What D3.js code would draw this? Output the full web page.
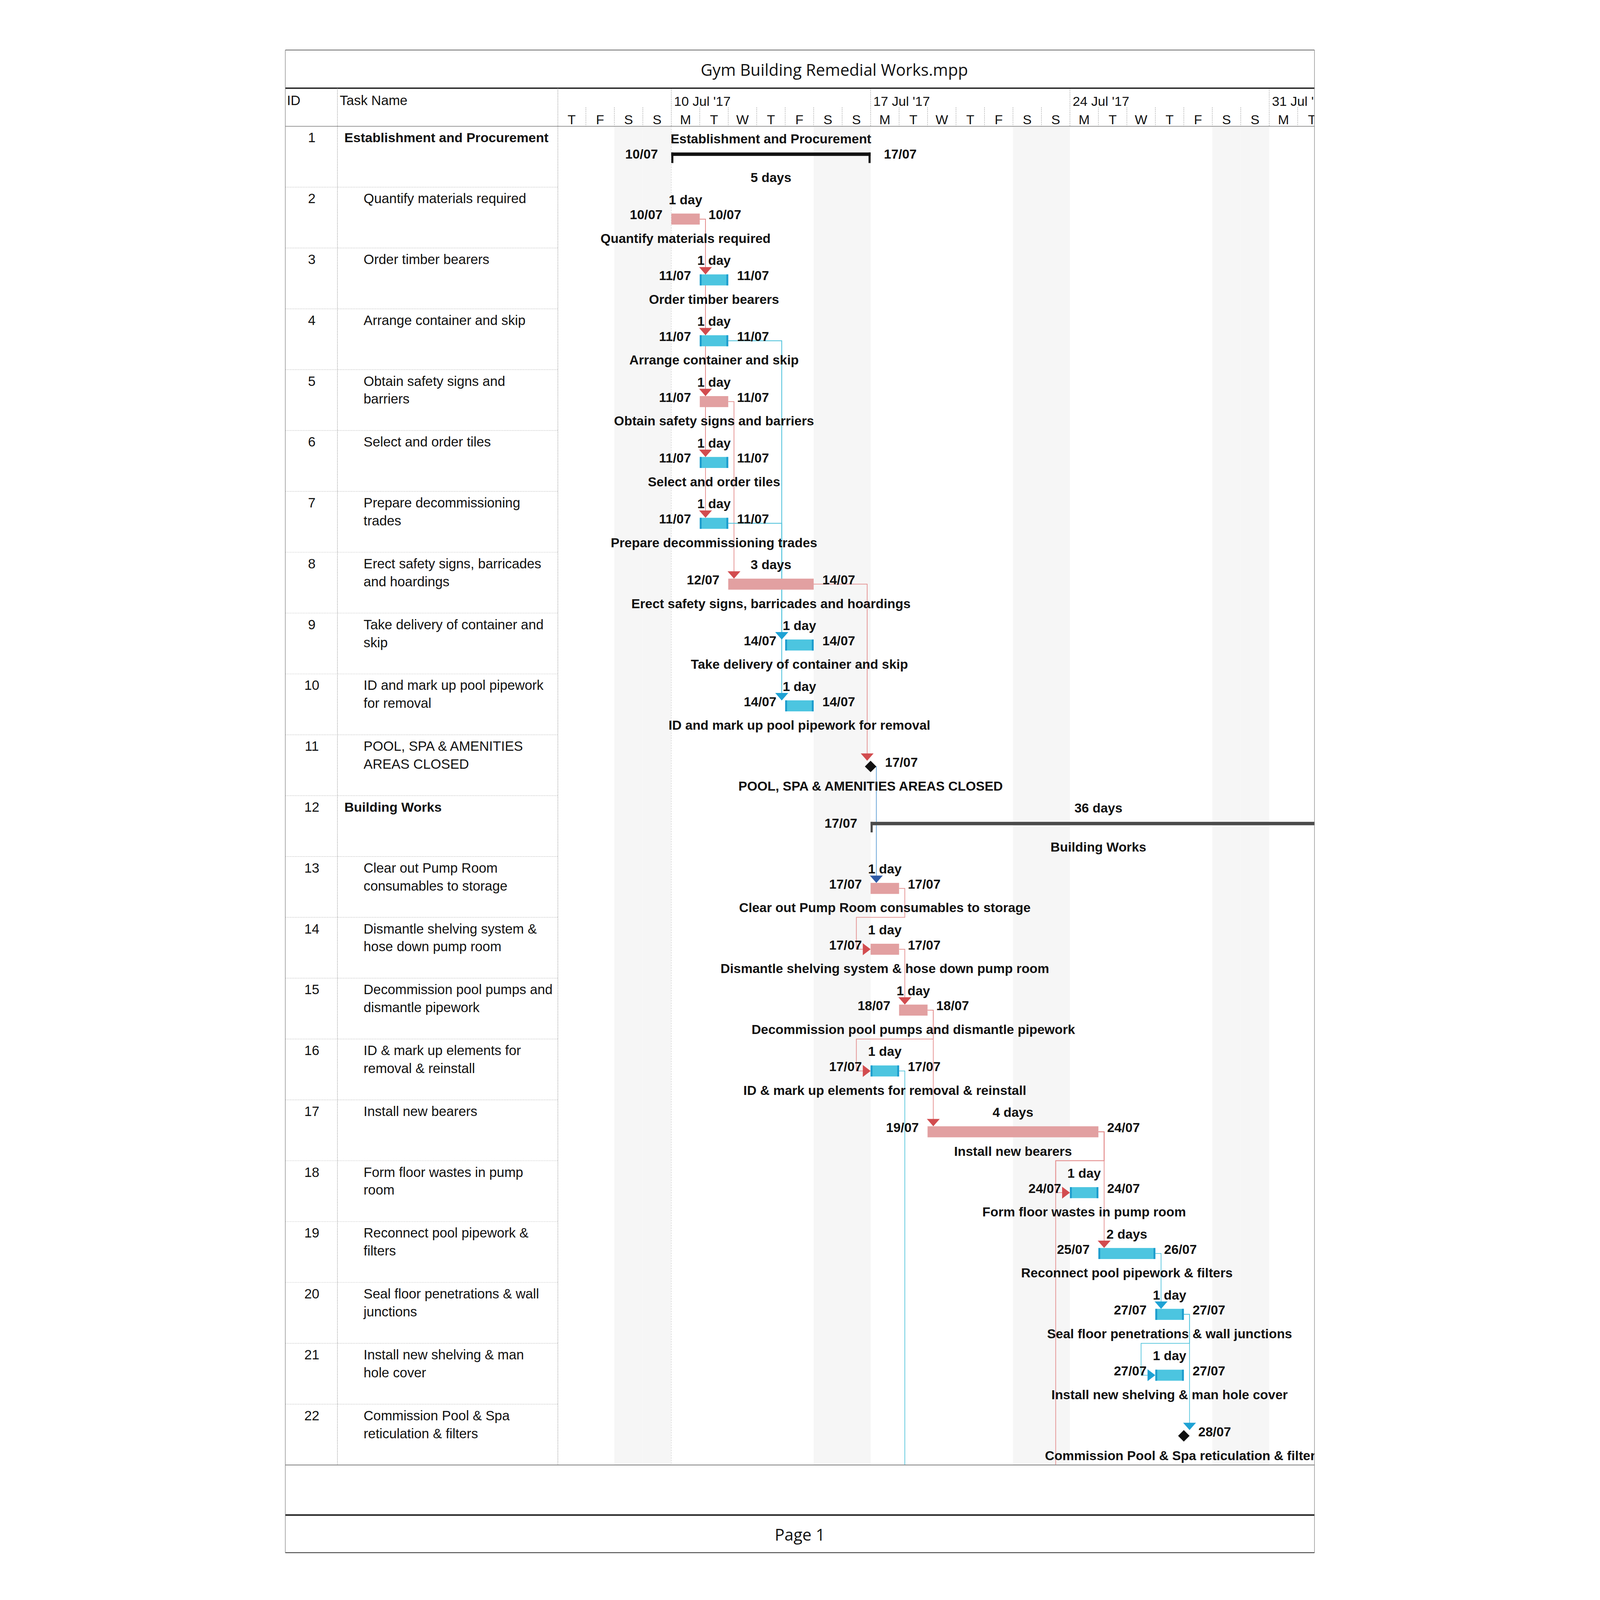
<!DOCTYPE html>
<html>
<head>
<meta charset="utf-8">
<script src="https://cdn.jsdelivr.net/npm/d3@7"></script>
<style>
  html, body { margin: 0; padding: 0; background: #fff; overflow: hidden; }
  svg { display: block; width: 100vw; height: 100vh; }
</style>
</head>
<body>
<svg id="chart"></svg>
<script>
const width = 4913;
const height = 6968;

// ---- data ----
const projectTitle = 'Gym Building Remedial Works.mpp';
const pageLabel = 'Page 1';

const taskIds = d3.range(1, 23);

// task names as they wrap in the Task Name column
const taskNames = [
  ['Establishment and Procurement'],
  ['Quantify materials required'],
  ['Order timber bearers'],
  ['Arrange container and skip'],
  ['Obtain safety signs and', 'barriers'],
  ['Select and order tiles'],
  ['Prepare decommissioning', 'trades'],
  ['Erect safety signs, barricades', 'and hoardings'],
  ['Take delivery of container and', 'skip'],
  ['ID and mark up pool pipework', 'for removal'],
  ['POOL, SPA & AMENITIES', 'AREAS CLOSED'],
  ['Building Works'],
  ['Clear out Pump Room', 'consumables to storage'],
  ['Dismantle shelving system &', 'hose down pump room'],
  ['Decommission pool pumps and', 'dismantle pipework'],
  ['ID & mark up elements for', 'removal & reinstall'],
  ['Install new bearers'],
  ['Form floor wastes in pump', 'room'],
  ['Reconnect pool pipework &', 'filters'],
  ['Seal floor penetrations & wall', 'junctions'],
  ['Install new shelving & man', 'hole cover'],
  ['Commission Pool & Spa', 'reticulation & filters']
];

// phase = top summary, summary = rolled up group, crit = critical task, norm = task, mile = milestone
const taskKinds = ['phase', 'crit', 'norm', 'norm', 'crit', 'norm', 'norm', 'crit', 'norm', 'norm', 'mile',
                   'summary', 'crit', 'crit', 'crit', 'norm', 'crit', 'norm', 'norm', 'norm', 'norm', 'mile'];

const taskStarts = ['2017-07-10', '2017-07-10', '2017-07-11', '2017-07-11', '2017-07-11', '2017-07-11', '2017-07-11',
                    '2017-07-12', '2017-07-14', '2017-07-14', '2017-07-17', '2017-07-17', '2017-07-17', '2017-07-17',
                    '2017-07-18', '2017-07-17', '2017-07-19', '2017-07-24', '2017-07-25', '2017-07-27', '2017-07-27',
                    '2017-07-28'];

const taskFinishes = ['2017-07-17', '2017-07-10', '2017-07-11', '2017-07-11', '2017-07-11', '2017-07-11', '2017-07-11',
                      '2017-07-14', '2017-07-14', '2017-07-14', '2017-07-17', '2017-09-04', '2017-07-17', '2017-07-17',
                      '2017-07-18', '2017-07-17', '2017-07-24', '2017-07-24', '2017-07-26', '2017-07-27', '2017-07-27',
                      '2017-07-28'];

const taskDurations = ['5 days', '1 day', '1 day', '1 day', '1 day', '1 day', '1 day', '3 days', '1 day', '1 day', '',
                       '36 days', '1 day', '1 day', '1 day', '1 day', '4 days', '1 day', '2 days', '1 day', '1 day', ''];

// [predecessor, successor, tone]
const links = [
  [2, 3, 'crit'], [2, 4, 'crit'], [2, 5, 'crit'], [2, 6, 'crit'], [2, 7, 'crit'],
  [5, 8, 'crit'],
  [4, 9, 'norm'], [4, 10, 'norm'], [7, 9, 'norm'], [7, 10, 'norm'],
  [8, 11, 'crit'],
  [11, 13, 'dark'],
  [13, 14, 'crit'], [14, 15, 'crit'], [15, 16, 'crit'], [15, 17, 'crit'],
  [17, 18, 'crit'], [17, 19, 'crit'],
  [19, 20, 'norm'], [20, 21, 'norm'], [20, 22, 'norm']
];

// links running on to tasks on the next page: [predecessor, successor start, tone]
const offPageLinks = [[16, '2017-07-18', 'norm'], [17, '2017-07-24', 'crit']];

const timelineStart = '2017-07-06';
const timelineEnd = '2017-08-02';

// ---- layout ----
const frame = { left: 215, right: 4697, top: 218, head: 384, dayRow: 468, body: 550, bottom: 6380, foot: 6598, end: 6762 };
const idRight = 442;
const nameRight = 1402;
const dayW = 124;

const parse = d3.utcParse('%Y-%m-%d');
const fmtDate = d3.utcFormat('%d/%m');
const fmtWeek = d3.utcFormat("%-d %b '%y");
const fmtDay = d3.utcFormat('%a');

const t0 = parse(timelineStart);
const t1 = parse(timelineEnd);
const x = d3.scaleUtc()
  .domain([t0, t1])
  .range([1400, 1400 + d3.utcDay.count(t0, t1) * dayW]);

const rowY = d3.scaleLinear()
  .domain([0, taskIds.length])
  .range([frame.body, frame.bottom]);
const rowH = rowY(1) - rowY(0);

const colors = {
  crit: '#e2a0a1', norm: '#4cc5e0', normEdge: '#1c9ccd',
  phase: '#121212', summary: '#4b4b4b', mile: '#111',
  linkCrit: '#e38c8c', linkNorm: '#52c4dc', linkDark: '#5a9bd3',
  arrowCrit: '#d24c4f', arrowNorm: '#1ea2d4', arrowDark: '#2e5aa7'
};

const tasks = taskIds.map((id, i) => ({
  id: id,
  lines: taskNames[i],
  name: taskNames[i].join(' '),
  kind: taskKinds[i],
  start: parse(taskStarts[i]),
  finish: parse(taskFinishes[i]),
  dur: taskDurations[i],
  top: rowY(i)
}));
const byId = new Map(tasks.map(t => [t.id, t]));

function x0(t) { return x(t.start); }
function x1(t) {
  if (t.kind === 'crit' || t.kind === 'norm') return x(d3.utcDay.offset(t.finish, 1));
  return x(t.finish);
}

const svg = d3.select('#chart')
  .attr('viewBox', `0 0 ${width} ${height}`)
  .attr('preserveAspectRatio', 'xMidYMin meet');

svg.append('rect').attr('width', width).attr('height', height).attr('fill', '#fff');

const defs = svg.append('defs');
defs.append('clipPath').attr('id', 'clipBody')
  .append('rect')
    .attr('x', nameRight).attr('y', frame.head)
    .attr('width', frame.right - nameRight).attr('height', frame.bottom - frame.head);

const body = svg.append('g').attr('clip-path', 'url(#clipBody)');

// weekend shading
const days = d3.utcDay.range(t0, t1);
body.selectAll('rect.weekend')
  .data(days.filter(d => d.getUTCDay() === 0 || d.getUTCDay() === 6))
  .enter()
  .append('rect')
    .attr('class', 'weekend')
    .attr('x', d => x(d))
    .attr('y', frame.body)
    .attr('width', d => x(d3.utcDay.offset(d, 1)) - x(d))
    .attr('height', frame.bottom - frame.body)
    .attr('fill', '#f6f6f6');

// project start line
body.append('line')
  .attr('x1', x(parse(taskStarts[0]))).attr('x2', x(parse(taskStarts[0])))
  .attr('y1', frame.body).attr('y2', frame.bottom)
  .attr('stroke', '#c8c8c8').attr('stroke-width', 2).attr('stroke-dasharray', '5 6');

// ---- timescale header ----
const head = body.append('g')
  .style('font-family', '"Liberation Sans", Arial, sans-serif')
  .style('font-size', '58px')
  .attr('fill', '#111');

head.selectAll('line.dayTick')
  .data(days)
  .enter()
  .append('line')
    .attr('x1', d => x(d)).attr('x2', d => x(d))
    .attr('y1', d => d.getUTCDay() === 1 ? frame.head : frame.dayRow)
    .attr('y2', frame.body)
    .attr('stroke', '#8c8c8c').attr('stroke-width', 2).attr('stroke-dasharray', '4 4');

head.selectAll('text.day')
  .data(days)
  .enter()
  .append('text')
    .attr('x', d => x(d) + dayW / 2)
    .attr('y', 541)
    .attr('text-anchor', 'middle')
    .text(d => fmtDay(d)[0]);

head.selectAll('text.week')
  .data(d3.utcMonday.range(t0, t1))
  .enter()
  .append('text')
    .attr('x', d => x(d) + 12)
    .attr('y', 461)
    .text(d => fmtWeek(d));

// ---- links ----
const linkG = body.append('g').attr('fill', 'none').attr('stroke-width', 3);
const arrows = [];
const lineColor = { crit: colors.linkCrit, norm: colors.linkNorm, dark: colors.linkDark };
const arrowColor = { crit: colors.arrowCrit, norm: colors.arrowNorm, dark: colors.arrowDark };

function routeLink(p, sx, sTop, succIsMile, tone, offPage) {
  const px = x1(p);
  const py = p.top + 139;
  const path = d3.path();
  path.moveTo(px, py);
  if (sx >= px - 1) {
    const lx = Math.max(px + 25, sx - 15);
    path.lineTo(lx, py);
    const tipY = offPage ? frame.bottom : sTop + (succIsMile ? 113 : 115);
    path.lineTo(lx, offPage ? tipY : tipY - 30);
    if (!offPage) arrows.push({ dir: 'down', x: lx, y: tipY, tone: tone });
  } else {
    const rx = px + 25;
    const lx = sx - 62;
    path.lineTo(rx, py);
    path.lineTo(rx, p.top + rowH);
    path.lineTo(lx, p.top + rowH);
    if (offPage) {
      path.lineTo(lx, frame.bottom);
    } else {
      path.lineTo(lx, sTop + 139);
      path.lineTo(sx - 34, sTop + 139);
      arrows.push({ dir: 'right', x: sx, y: sTop + 139, tone: tone });
    }
  }
  linkG.append('path').attr('d', path.toString()).attr('stroke', lineColor[tone]);
}

links.forEach(([a, b, tone]) => {
  const p = byId.get(a), s = byId.get(b);
  routeLink(p, x0(s), s.top, s.kind === 'mile', tone, false);
});
offPageLinks.forEach(([a, start, tone]) => {
  routeLink(byId.get(a), x(parse(start)), frame.bottom, false, tone, true);
});

// ---- bars ----
const barG = body.append('g');
const barTasks = tasks.filter(t => t.kind === 'crit' || t.kind === 'norm');

barG.selectAll('rect.bar')
  .data(barTasks)
  .enter()
  .append('rect')
    .attr('class', 'bar')
    .attr('x', d => x0(d))
    .attr('y', d => d.top + 115)
    .attr('width', d => x1(d) - x0(d))
    .attr('height', 48)
    .attr('fill', d => d.kind === 'crit' ? colors.crit : colors.norm);

// darker end caps on the blue bars
barG.selectAll('rect.capL')
  .data(barTasks.filter(d => d.kind === 'norm'))
  .enter()
  .append('rect')
    .attr('x', d => x0(d)).attr('y', d => d.top + 115)
    .attr('width', 8).attr('height', 48).attr('fill', colors.normEdge);
barG.selectAll('rect.capR')
  .data(barTasks.filter(d => d.kind === 'norm'))
  .enter()
  .append('rect')
    .attr('x', d => x1(d) - 8).attr('y', d => d.top + 115)
    .attr('width', 8).attr('height', 48).attr('fill', colors.normEdge);

// summary bars with end tabs
const sums = tasks.filter(t => t.kind === 'phase' || t.kind === 'summary');
sums.forEach(t => {
  const c = t.kind === 'phase' ? colors.phase : colors.summary;
  barG.append('rect')
    .attr('x', x0(t)).attr('y', t.top + 114)
    .attr('width', x1(t) - x0(t)).attr('height', 15).attr('fill', c);
  barG.append('rect')
    .attr('x', x0(t)).attr('y', t.top + 114)
    .attr('width', 9).attr('height', 46).attr('fill', c);
  barG.append('rect')
    .attr('x', x1(t) - 9).attr('y', t.top + 114)
    .attr('width', 9).attr('height', 46).attr('fill', c);
});

// milestones
barG.selectAll('path.mile')
  .data(tasks.filter(t => t.kind === 'mile'))
  .enter()
  .append('path')
    .attr('d', d => {
      const cx = x0(d), cy = d.top + 138;
      return `M${cx},${cy - 25}L${cx + 25},${cy}L${cx},${cy + 25}L${cx - 25},${cy}Z`;
    })
    .attr('fill', colors.mile);

// arrow heads
barG.selectAll('path.arrow')
  .data(arrows)
  .enter()
  .append('path')
    .attr('d', d => d.dir === 'down'
      ? `M${d.x - 28},${d.y - 32}L${d.x + 28},${d.y - 32}L${d.x},${d.y}Z`
      : `M${d.x - 34},${d.y - 26}L${d.x},${d.y}L${d.x - 34},${d.y + 26}Z`)
    .attr('fill', d => arrowColor[d.tone]);

// ---- bar labels ----
const lab = body.append('g')
  .style('font-family', '"Liberation Sans", Arial, sans-serif')
  .style('font-size', '57px')
  .style('font-weight', 'bold')
  .attr('fill', '#111');

tasks.forEach(t => {
  const a = x0(t);
  const b = Math.min(x1(t), x(t1));
  const mid = t.kind === 'mile' ? a : (a + b) / 2;
  if (t.kind === 'mile') {
    lab.append('text').attr('x', a + 63).attr('y', t.top + 140).text(fmtDate(t.start));
    lab.append('text').attr('x', mid).attr('y', t.top + 244).attr('text-anchor', 'middle').text(t.name);
    return;
  }
  const gap = (t.kind === 'phase' || t.kind === 'summary') ? 58 : 38;
  const top = t.kind === 'phase' ? t.name : t.dur;
  const bottom = t.kind === 'phase' ? t.dur : t.name;
  lab.append('text').attr('x', mid).attr('y', t.top + 74).attr('text-anchor', 'middle').text(top);
  lab.append('text').attr('x', a - gap).attr('y', t.top + 140).attr('text-anchor', 'end').text(fmtDate(t.start));
  // the finish date of a bar running past the page edge is not printed
  if (x1(t) + gap < frame.right) {
    lab.append('text').attr('x', x1(t) + gap).attr('y', t.top + 140).text(fmtDate(t.finish));
  }
  lab.append('text').attr('x', mid).attr('y', t.top + 243).attr('text-anchor', 'middle').text(bottom);
});

// ---- table on the left ----
const table = svg.append('g')
  .style('font-family', '"Liberation Sans", Arial, sans-serif')
  .style('font-size', '59px')
  .attr('fill', '#111');

table.append('text').attr('x', 222).attr('y', 457).text('ID');
table.append('text').attr('x', 452).attr('y', 457).text('Task Name');

table.selectAll('line.row')
  .data(tasks.slice(1))
  .enter()
  .append('line')
    .attr('x1', frame.left).attr('x2', nameRight)
    .attr('y1', d => d.top).attr('y2', d => d.top)
    .attr('stroke', '#a9a9a9').attr('stroke-width', 2).attr('stroke-dasharray', '3 4');

table.selectAll('text.id')
  .data(tasks)
  .enter()
  .append('text')
    .attr('x', (frame.left + idRight) / 2 + 2)
    .attr('y', d => d.top + 70)
    .attr('text-anchor', 'middle')
    .text(d => d.id);

const isGroup = d => d.kind === 'phase' || d.kind === 'summary';
const nameText = table.selectAll('text.name')
  .data(tasks)
  .enter()
  .append('text')
    .attr('x', d => isGroup(d) ? 472 : 556)
    .attr('y', d => d.top + 70)
    .style('font-weight', d => isGroup(d) ? 'bold' : 'normal')
    .style('font-size', d => isGroup(d) ? '58px' : '59px');
nameText.selectAll('tspan')
  .data(d => d.lines.map((l, i) => ({ l: l, i: i, x: isGroup(d) ? 472 : 556 })))
  .enter()
  .append('tspan')
    .attr('x', d => d.x)
    .attr('dy', d => d.i === 0 ? 0 : 78)
    .text(d => d.l);

// ---- frame lines ----
const lines = svg.append('g').attr('stroke', '#222').attr('fill', 'none');
lines.append('line').attr('x1', frame.left).attr('x2', frame.right).attr('y1', frame.top).attr('y2', frame.top).attr('stroke-width', 3).attr('stroke', '#555');
lines.append('line').attr('x1', frame.left).attr('x2', frame.right).attr('y1', frame.head).attr('y2', frame.head).attr('stroke-width', 6);
lines.append('line').attr('x1', frame.left).attr('x2', frame.right).attr('y1', frame.body).attr('y2', frame.body).attr('stroke-width', 3).attr('stroke', '#888');
lines.append('line').attr('x1', frame.left).attr('x2', frame.right).attr('y1', frame.bottom).attr('y2', frame.bottom).attr('stroke-width', 4).attr('stroke', '#888');
lines.append('line').attr('x1', frame.left).attr('x2', frame.right).attr('y1', frame.foot).attr('y2', frame.foot).attr('stroke-width', 7);
lines.append('line').attr('x1', frame.left).attr('x2', frame.right).attr('y1', frame.end).attr('y2', frame.end).attr('stroke-width', 4).attr('stroke', '#444');
lines.append('line').attr('x1', frame.left).attr('x2', frame.left).attr('y1', frame.top).attr('y2', frame.end).attr('stroke-width', 2).attr('stroke', '#777');
lines.append('line').attr('x1', frame.right).attr('x2', frame.right).attr('y1', frame.top).attr('y2', frame.end).attr('stroke-width', 2).attr('stroke', '#777');
[idRight, nameRight].forEach(cx => {
  lines.append('line').attr('x1', cx).attr('x2', cx).attr('y1', frame.head).attr('y2', frame.bottom)
    .attr('stroke-width', 2).attr('stroke', '#8a8a8a').attr('stroke-dasharray', '4 3');
});

// ---- title and footer ----
svg.append('text')
  .attr('x', (frame.left + frame.right) / 2 + 150)
  .attr('y', 330)
  .attr('text-anchor', 'middle')
  .style('font-family', '"Open Sans", "Noto Sans", sans-serif')
  .style('font-size', '71px')
  .attr('fill', '#111')
  .text(projectTitle);

svg.append('text')
  .attr('x', (frame.left + frame.right) / 2)
  .attr('y', 6710)
  .attr('text-anchor', 'middle')
  .style('font-family', '"Open Sans", "Noto Sans", sans-serif')
  .style('font-size', '71px')
  .attr('fill', '#111')
  .text(pageLabel);
</script>
</body>
</html>
